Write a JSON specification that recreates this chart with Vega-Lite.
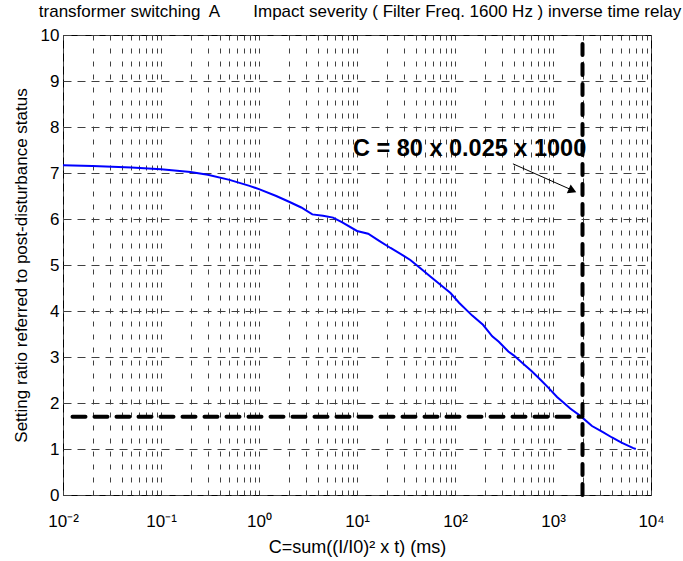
{
  "$schema": "https://vega.github.io/schema/vega-lite/v6.json",
  "width": 588,
  "height": 460,
  "autosize": {"type": "none"},
  "padding": {"left": 63, "top": 35, "right": 32, "bottom": 66},
  "background": "white",
  "title": {
    "text": "transformer switching\u00a0 A\u00a0\u00a0\u00a0\u00a0\u00a0\u00a0 Impact severity ( Filter Freq. 1600 Hz ) inverse time relay",
    "font": "Liberation Sans",
    "fontSize": 17,
    "fontWeight": "normal",
    "color": "black",
    "anchor": "middle",
    "dx": 3,
    "offset": 5
  },
  "datasets": {
    "curve": [
      {"c": 0.01, "r": 7.17}, {"c": 0.02, "r": 7.15}, {"c": 0.05, "r": 7.12},
      {"c": 0.1, "r": 7.08}, {"c": 0.2, "r": 7.02}, {"c": 0.3, "r": 6.96},
      {"c": 0.5, "r": 6.85}, {"c": 0.8, "r": 6.72}, {"c": 1.0, "r": 6.65},
      {"c": 1.5, "r": 6.5}, {"c": 2.0, "r": 6.38}, {"c": 2.7, "r": 6.25},
      {"c": 3.5, "r": 6.1}, {"c": 4.5, "r": 6.07}, {"c": 5.7, "r": 6.03},
      {"c": 7, "r": 5.93}, {"c": 10, "r": 5.74}, {"c": 13, "r": 5.68},
      {"c": 17, "r": 5.52}, {"c": 22, "r": 5.37}, {"c": 30, "r": 5.2},
      {"c": 35, "r": 5.11}, {"c": 45, "r": 4.92}, {"c": 56, "r": 4.75},
      {"c": 70, "r": 4.58}, {"c": 90, "r": 4.39}, {"c": 110, "r": 4.18},
      {"c": 150, "r": 3.9}, {"c": 193, "r": 3.7}, {"c": 240, "r": 3.45},
      {"c": 280, "r": 3.33}, {"c": 350, "r": 3.12}, {"c": 400, "r": 3.03},
      {"c": 500, "r": 2.85}, {"c": 600, "r": 2.7}, {"c": 750, "r": 2.5},
      {"c": 900, "r": 2.33}, {"c": 1100, "r": 2.13}, {"c": 1260, "r": 2.02},
      {"c": 1500, "r": 1.88}, {"c": 1900, "r": 1.72}, {"c": 2500, "r": 1.5},
      {"c": 3200, "r": 1.37}, {"c": 4000, "r": 1.25}, {"c": 5000, "r": 1.14},
      {"c": 6600, "r": 1.02}, {"c": 7000, "r": 1.0}
    ],
    "hline": [{"c": 0.0125, "c2": 2000, "r": 1.7}],
    "vline": [{"c": 2000, "r": 0, "r2": 10}],
    "arrow": [{"c": 390, "c2": 1560, "r": 7.2, "r2": 6.63}],
    "head": [{"c": 1581, "r": 6.62}],
    "label": [{"c": 9.1, "r": 7.37, "t": "C = 80 x 0.025 x 1000"}]
  },
  "layer": [
    {
      "data": {"name": "curve"},
      "mark": {"type": "line", "color": "#0000ff", "strokeWidth": 2, "clip": true},
      "encoding": {
        "x": {
          "field": "c", "type": "quantitative",
          "scale": {"type": "log", "domain": [0.01, 10000], "nice": false},
          "axis": {
            "title": "C=sum((I/I0)\u00b2 x t) (ms)",
            "titleFontSize": 18,
            "values": [0.01,0.02,0.03,0.04,0.05,0.06,0.07,0.08,0.09,
                       0.1,0.2,0.3,0.4,0.5,0.6,0.7,0.8,0.9,
                       1,2,3,4,5,6,7,8,9,
                       10,20,30,40,50,60,70,80,90,
                       100,200,300,400,500,600,700,800,900,
                       1000,2000,3000,4000,5000,6000,7000,8000,9000,10000],
            "labelExpr": "datum.value == 0.01 ? '10\u207b\u00b2' : datum.value == 0.1 ? '10\u207b\u00b9' : datum.value == 1 ? '10\u2070' : datum.value == 10 ? '10\u00b9' : datum.value == 100 ? '10\u00b2' : datum.value == 1000 ? '10\u00b3' : datum.value == 10000 ? '10\u2074' : ''",
            "labelFlush": false,
            "labelOverlap": false,
            "labelPadding": 18,
            "gridDash": [5, 8],
            "titlePadding": 9
          }
        },
        "y": {
          "field": "r", "type": "quantitative",
          "scale": {"domain": [0, 10], "nice": false},
          "axis": {
            "title": "Setting ratio referred to post-disturbance status",
            "values": [0,1,2,3,4,5,6,7,8,9,10],
            "labelPadding": 4,
            "gridDash": [8, 6],
            "titlePadding": 10
          }
        }
      }
    },
    {
      "data": {"name": "hline"},
      "mark": {"type": "rule", "color": "black", "strokeWidth": 4, "strokeDash": [13, 9], "strokeCap": "round"},
      "encoding": {
        "x": {"field": "c", "type": "quantitative"},
        "x2": {"field": "c2"},
        "y": {"field": "r", "type": "quantitative"}
      }
    },
    {
      "data": {"name": "vline"},
      "mark": {"type": "rule", "color": "black", "strokeWidth": 4, "strokeDash": [11, 9], "strokeCap": "round"},
      "encoding": {
        "x": {"field": "c", "type": "quantitative"},
        "y": {"field": "r", "type": "quantitative"},
        "y2": {"field": "r2"}
      }
    },
    {
      "data": {"name": "arrow"},
      "mark": {"type": "rule", "color": "black", "strokeWidth": 1},
      "encoding": {
        "x": {"field": "c", "type": "quantitative"},
        "x2": {"field": "c2"},
        "y": {"field": "r", "type": "quantitative"},
        "y2": {"field": "r2"}
      }
    },
    {
      "data": {"name": "head"},
      "mark": {"type": "point", "shape": "triangle-right", "filled": true, "color": "black", "size": 90, "angle": 24, "opacity": 1},
      "encoding": {
        "x": {"field": "c", "type": "quantitative"},
        "y": {"field": "r", "type": "quantitative"}
      }
    },
    {
      "data": {"name": "label"},
      "mark": {"type": "text", "align": "left", "baseline": "alphabetic", "font": "Liberation Sans", "fontSize": 23.5, "fontWeight": "bold", "color": "black"},
      "encoding": {
        "x": {"field": "c", "type": "quantitative"},
        "y": {"field": "r", "type": "quantitative"},
        "text": {"field": "t"}
      }
    }
  ],
  "config": {
    "view": {"stroke": "black", "strokeWidth": 1},
    "axis": {
      "domain": false,
      "ticks": false,
      "grid": true,
      "gridColor": "#404040",
      "gridWidth": 1,
      "labelFont": "Liberation Sans",
      "labelFontSize": 17,
      "labelColor": "black",
      "titleFont": "Liberation Sans",
      "titleFontSize": 17,
      "titleFontWeight": "normal",
      "titleColor": "black"
    }
  }
}
